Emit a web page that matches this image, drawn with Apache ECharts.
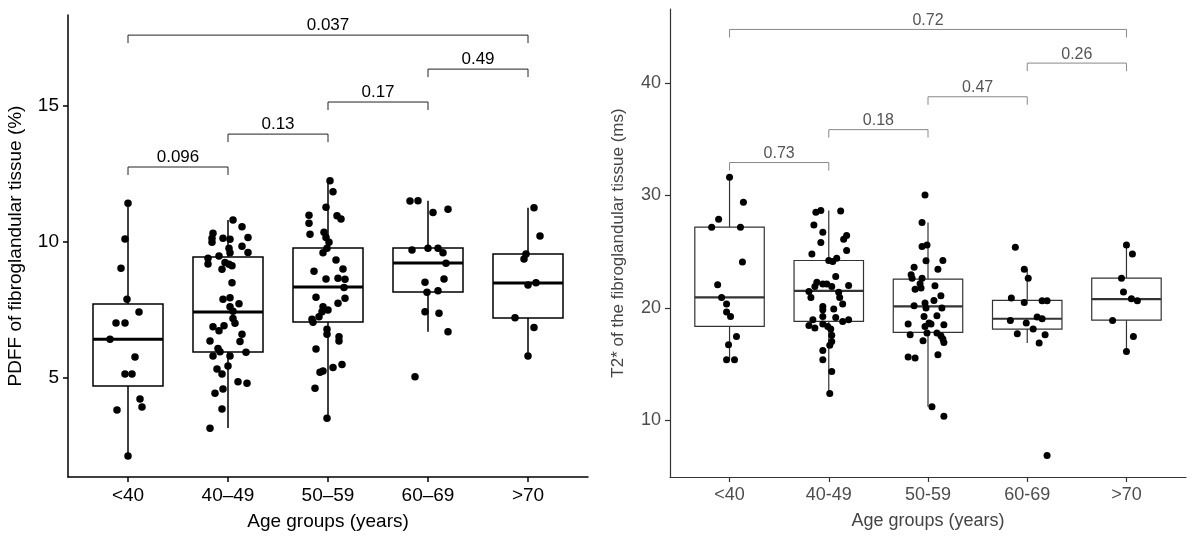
<!DOCTYPE html>
<html>
<head>
<meta charset="utf-8">
<script src="https://cdn.jsdelivr.net/npm/echarts@6/dist/echarts.min.js"></script>
<style>
  html, body { margin: 0; padding: 0; background: #fff; }
  #chart { width: 1195px; height: 541px; }
</style>
</head>
<body>
<div id="chart"></div>
<script>
// category labels (left panel uses en dash, right uses hyphen)
const ageGroupsLeft = ['<40', '40–49', '50–59', '60–69', '>70']
const ageGroupsRight = ['<40', '40-49', '50-59', '60-69', '>70']

// box stats per group: [min, Q1, median, Q3, max]
const pdffBoxes = [
  [2.13, 4.71, 6.43, 7.72, 11.43],
  [3.16, 5.96, 7.43, 9.45, 10.81],
  [3.52, 7.06, 8.35, 9.78, 12.25],
  [6.70, 8.16, 9.23, 9.78, 11.52],
  [5.81, 7.21, 8.49, 9.56, 11.26]
]
const t2Boxes = [
  [15.37, 18.34, 20.92, 27.18, 31.63],
  [12.35, 18.78, 21.51, 24.21, 28.66],
  [11.17, 17.80, 20.12, 22.55, 27.59],
  [16.86, 18.10, 19.02, 20.65, 23.44],
  [16.11, 18.90, 20.77, 22.64, 25.60]
]

// jittered points: [x offset from group centre, value]
const pdffLt40 = [[0, 11.43], [-0.03, 10.11], [-0.07, 9.04], [-0.01, 7.90], [0.11, 7.43], [-0.12, 7.02], [-0.03, 7.02], [-0.18, 6.43], [0.07, 5.77], [-0.03, 5.15], [0.04, 5.15], [0.12, 4.23], [0.14, 3.93], [-0.11, 3.82], [0, 2.13]]
const pdff4049 = [[0.05, 10.81], [0.14, 10.56], [-0.15, 10.32], [-0.16, 10.14], [-0.05, 10.14], [0.02, 10.10], [0.20, 10.17], [-0.16, 9.99], [0.14, 9.85], [0.01, 9.77], [0.02, 9.61], [0.20, 9.62], [-0.09, 9.49], [-0.20, 9.40], [-0.20, 9.19], [-0.03, 9.25], [0.01, 9.18], [0.04, 9.13], [-0.06, 9.00], [0.04, 8.50], [-0.05, 7.90], [0.02, 7.95], [0.11, 7.73], [0.02, 7.62], [0.05, 7.46], [0.05, 7.19], [0.07, 7.01], [-0.15, 6.89], [-0.04, 6.92], [-0.09, 6.74], [0.14, 6.61], [-0.18, 6.36], [0.12, 6.34], [-0.10, 6.09], [-0.08, 5.97], [0.18, 5.95], [-0.15, 5.81], [0.02, 5.81], [0, 5.44], [-0.11, 5.33], [-0.06, 5.15], [0.10, 4.86], [0.19, 4.81], [-0.05, 4.60], [-0.13, 4.44], [-0.06, 3.86], [-0.18, 3.15]]
const pdff5059 = [[0.02, 12.25], [0.05, 11.85], [-0.02, 11.28], [-0.19, 10.99], [0.09, 10.97], [0.13, 10.85], [-0.19, 10.69], [-0.18, 10.29], [-0.04, 10.36], [-0.02, 10.17], [0.01, 9.99], [-0.01, 9.77], [-0.05, 9.61], [0.08, 9.34], [-0.14, 8.93], [0.15, 9.01], [-0.02, 8.64], [0.10, 8.67], [0.17, 8.63], [0.16, 8.33], [-0.12, 7.97], [0.17, 7.93], [0.10, 7.75], [-0.05, 7.62], [0, 7.50], [-0.06, 7.44], [-0.09, 7.25], [-0.16, 7.16], [-0.15, 7.05], [-0.01, 6.79], [-0.01, 6.61], [0.11, 6.52], [0.11, 6.36], [-0.12, 6.07], [0.14, 5.50], [0.05, 5.39], [-0.05, 5.26], [-0.08, 5.21], [-0.13, 4.62], [-0.01, 3.52]]
const pdff6069 = [[-0.18, 11.51], [-0.10, 11.52], [0.05, 11.09], [0.20, 11.21], [-0.16, 9.71], [0, 9.77], [0.10, 9.77], [0.15, 9.61], [0.18, 9.22], [-0.03, 8.52], [0.16, 8.64], [-0.01, 8.15], [0.10, 8.21], [-0.03, 7.44], [0.11, 7.38], [0.20, 6.70], [-0.13, 5.05]]
const pdffGt70 = [[0.06, 11.26], [0.12, 10.22], [-0.02, 9.56], [-0.04, 9.38], [0, 8.42], [0.08, 8.50], [-0.13, 7.22], [0.06, 6.86], [0, 5.81]]

const t2Lt40 = [[0, 31.63], [0.14, 29.40], [-0.11, 27.89], [-0.18, 27.18], [0.11, 27.18], [0.13, 24.07], [-0.12, 22.05], [-0.08, 20.92], [-0.03, 20.33], [-0.03, 19.62], [0.01, 19.23], [0.07, 17.45], [-0.01, 16.71], [-0.03, 15.37], [0.05, 15.37]]
const t24049 = [[-0.13, 28.51], [-0.08, 28.66], [0.12, 28.63], [-0.15, 27.38], [-0.06, 26.73], [0.18, 26.43], [0.15, 26.11], [-0.08, 25.81], [0.18, 25.10], [-0.17, 24.80], [0, 24.21], [0.04, 24.12], [0.08, 24.42], [0.07, 22.79], [-0.12, 22.28], [-0.06, 22.11], [-0.02, 22.11], [0.03, 21.90], [-0.14, 21.90], [0.20, 21.98], [-0.20, 21.45], [0.10, 21.39], [-0.18, 20.92], [0.11, 20.92], [0.14, 20.33], [-0.06, 20.12], [-0.06, 19.82], [0.05, 19.88], [-0.06, 19.23], [0.07, 19.14], [-0.16, 18.93], [0.14, 18.78], [0.20, 18.93], [-0.20, 18.43], [-0.14, 18.19], [-0.06, 18.55], [-0.01, 18.34], [0.02, 18.10], [0.03, 17.54], [0.03, 17.00], [0.01, 16.65], [-0.06, 16.20], [-0.06, 15.37], [0.03, 14.33], [0.01, 12.35]]
const t25059 = [[-0.03, 30.05], [-0.06, 27.59], [-0.06, 25.45], [-0.01, 25.60], [-0.02, 24.18], [0.15, 24.21], [0.10, 23.44], [-0.14, 23.62], [-0.17, 22.94], [-0.16, 22.64], [-0.06, 22.64], [-0.08, 22.14], [0.07, 21.96], [-0.13, 21.66], [-0.07, 21.75], [0.13, 21.07], [0.06, 20.65], [-0.14, 20.18], [-0.03, 20.42], [-0.02, 19.97], [0.14, 19.97], [-0.04, 19.23], [0.09, 19.29], [0.01, 18.64], [0.16, 18.49], [-0.20, 18.55], [-0.03, 18.34], [0.03, 18.55], [-0.18, 17.60], [-0.01, 17.75], [0.09, 17.75], [0.13, 17.51], [0.15, 17.22], [0.16, 16.91], [-0.05, 17.06], [-0.20, 15.61], [-0.13, 15.52], [0.10, 15.82], [0.04, 11.17], [0.16, 10.33]]
const t26069 = [[-0.12, 25.40], [-0.03, 23.44], [0.01, 22.64], [-0.16, 20.86], [-0.03, 20.47], [0.15, 20.62], [0.20, 20.62], [-0.17, 18.87], [-0.01, 18.64], [0.10, 19.17], [0.15, 19.02], [0.06, 18.10], [-0.10, 17.69], [0.18, 17.60], [0.12, 16.86], [0.20, 6.83]]
const t2Gt70 = [[0, 25.60], [0.06, 24.78], [-0.05, 22.64], [-0.03, 21.40], [0.05, 20.80], [0.11, 20.62], [-0.14, 18.87], [0.07, 17.45], [0, 16.11]]

// significance brackets: group pairs, bracket height, p value
const bracketPairs = [[1, 2], [2, 3], [3, 4], [4, 5], [1, 5]]
const pdffBracketY = [12.76, 13.97, 15.15, 16.36, 17.61]
const pdffPValues = ['0.096', '0.13', '0.17', '0.49', '0.037']
const t2BracketY = [32.94, 35.87, 38.8, 41.8, 44.8]
const t2PValues = ['0.73', '0.18', '0.47', '0.26', '0.72']

const yTicksLeft = [5, 10, 15]
const yTicksRight = [10, 20, 30, 40]
const xPositions = [1, 2, 3, 4, 5]

const font = 'Liberation Sans, Arial, Helvetica, sans-serif'

function toPoints(groups) {
  return groups.flatMap((g, i) => g.map(p => [i + 1 + p[0], p[1]]))
}

function boxSeries(idx, boxes, color, lw, medLw) {
  return {
    type: 'custom',
    xAxisIndex: idx,
    yAxisIndex: idx,
    z: 2,
    encode: { x: 0, y: [1, 2, 3, 4, 5] },
    data: boxes.map((b, i) => [i + 1, ...b]),
    renderItem(params, api) {
      const x = api.value(0)
      const lo = api.coord([x, api.value(1)])
      const q1 = api.coord([x, api.value(2)])
      const med = api.coord([x, api.value(3)])
      const q3 = api.coord([x, api.value(4)])
      const hi = api.coord([x, api.value(5)])
      const half = api.size([0.7, 0])[0] / 2
      const line = { stroke: color, lineWidth: lw }
      return {
        type: 'group',
        children: [
          { type: 'line', shape: { x1: lo[0], y1: lo[1], x2: q1[0], y2: q1[1] }, style: line },
          { type: 'line', shape: { x1: q3[0], y1: q3[1], x2: hi[0], y2: hi[1] }, style: line },
          { type: 'rect', shape: { x: q3[0] - half, y: q3[1], width: half * 2, height: q1[1] - q3[1] }, style: { fill: '#fff', stroke: color, lineWidth: lw } },
          { type: 'line', shape: { x1: med[0] - half, y1: med[1], x2: med[0] + half, y2: med[1] }, style: { stroke: color, lineWidth: medLw } }
        ]
      }
    }
  }
}

function pointSeries(idx, groups, size) {
  return {
    type: 'scatter',
    xAxisIndex: idx,
    yAxisIndex: idx,
    z: 3,
    symbolSize: size,
    itemStyle: { color: '#000', opacity: 1 },
    data: toPoints(groups)
  }
}

function bracketSeries(idx, heights, labels, color, textColor, fontSize) {
  return {
    type: 'custom',
    xAxisIndex: idx,
    yAxisIndex: idx,
    z: 4,
    encode: { x: [0, 1], y: 2 },
    data: bracketPairs.map((p, i) => [p[0], p[1], heights[i]]),
    renderItem(params, api) {
      const a = api.coord([api.value(0), api.value(2)])
      const b = api.coord([api.value(1), api.value(2)])
      const tip = 8
      return {
        type: 'group',
        children: [
          { type: 'polyline', shape: { points: [[a[0], a[1] + tip], a, b, [b[0], b[1] + tip]] }, style: { stroke: color, lineWidth: 1, fill: null } },
          { type: 'text', x: (a[0] + b[0]) / 2, y: a[1] - 1, style: { text: labels[params.dataIndex], fill: textColor, font: fontSize + 'px ' + font, align: 'center', verticalAlign: 'bottom' } }
        ]
      }
    }
  }
}

function xAxisFor(idx, labels, c, lw, labelColor, labelSize, nameColor, nameSize) {
  return {
    type: 'value',
    gridIndex: idx,
    min: 0.4,
    max: 5.6,
    name: 'Age groups (years)',
    nameLocation: 'middle',
    nameGap: 35,
    nameTextStyle: { color: nameColor, fontSize: nameSize, fontFamily: font },
    axisLine: { lineStyle: { color: c, width: lw } },
    axisTick: { show: true, length: 5, lineStyle: { color: c, width: lw }, customValues: xPositions },
    axisLabel: { color: labelColor, fontSize: labelSize, fontFamily: font, margin: 9, customValues: xPositions, formatter: v => labels[Math.round(v) - 1] },
    splitLine: { show: false }
  }
}

function yAxisFor(idx, name, min, max, ticks, c, lw, labelColor, labelSize, nameColor, nameSize) {
  return {
    type: 'value',
    gridIndex: idx,
    min: min,
    max: max,
    name: name,
    nameLocation: 'middle',
    nameGap: 43,
    nameTextStyle: { color: nameColor, fontSize: nameSize, fontFamily: font },
    axisLine: { show: true, lineStyle: { color: c, width: lw } },
    axisTick: { show: true, length: 5, lineStyle: { color: c, width: lw }, customValues: ticks },
    axisLabel: { color: labelColor, fontSize: labelSize, fontFamily: font, margin: 9, customValues: ticks },
    splitLine: { show: false }
  }
}

const chart = echarts.init(document.getElementById('chart'), null, { renderer: 'canvas' })
chart.setOption({
  backgroundColor: '#fff',
  animation: false,
  grid: [
    { left: 68, top: 15, width: 520, height: 462 },
    { left: 670, top: 9, width: 516, height: 468 }
  ],
  xAxis: [
    xAxisFor(0, ageGroupsLeft, '#000', 1.5, '#000', 19, '#000', 19),
    xAxisFor(1, ageGroupsRight, '#333', 1.2, '#4d4d4d', 18, '#444', 18)
  ],
  yAxis: [
    yAxisFor(0, 'PDFF of fibroglandular tissue (%)', 1.36, 18.35, yTicksLeft, '#000', 1.5, '#000', 19, '#000', 19),
    yAxisFor(1, 'T2* of the fibroglandular tissue (ms)', 4.92, 46.62, yTicksRight, '#333', 1.2, '#4d4d4d', 18, '#444', 17)
  ],
  series: [
    boxSeries(0, pdffBoxes, '#000', 1.5, 3),
    pointSeries(0, [pdffLt40, pdff4049, pdff5059, pdff6069, pdffGt70], 7.5),
    bracketSeries(0, pdffBracketY, pdffPValues, '#222', '#000', 17),
    boxSeries(1, t2Boxes, '#333', 1.2, 2.2),
    pointSeries(1, [t2Lt40, t24049, t25059, t26069, t2Gt70], 7),
    bracketSeries(1, t2BracketY, t2PValues, '#888', '#555', 16)
  ]
})
</script>
</body>
</html>
